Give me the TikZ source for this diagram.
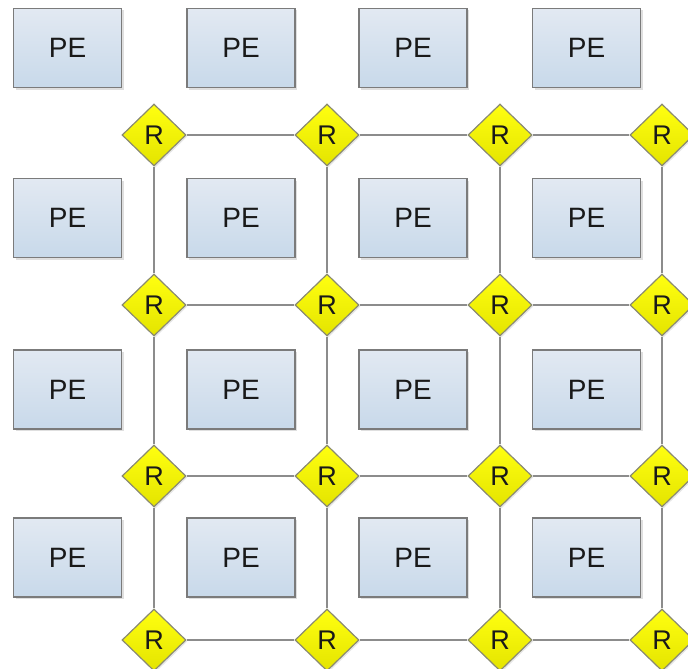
\documentclass[tikz,border=0pt]{standalone}
\usepackage{fontspec}
\setmainfont{Liberation Sans}
\usetikzlibrary{shapes.geometric,shadows}

\definecolor{petop}{HTML}{E2E9F2}
\definecolor{pebottom}{HTML}{C8D9EA}
\definecolor{peborder}{HTML}{7B7B7B}
\definecolor{rtop}{HTML}{FFFF10}
\definecolor{rbottom}{HTML}{E4E400}
\definecolor{rborder}{HTML}{8A8A70}
\definecolor{linkgray}{HTML}{8C8C8C}

\tikzset{
	pe/.style = {rectangle, draw = peborder, line width = 1.4pt,
		top color = petop, bottom color = pebottom,
		minimum width = 108pt, minimum height = 79pt, inner sep = 0pt,
		font = \fontsize{28}{32}\selectfont, text = black!90,
		drop shadow = {opacity = 0.25, shadow xshift = 2pt, shadow yshift = -2pt}},
	router/.style = {diamond, draw = rborder, line width = 1.2pt,
		top color = rtop, bottom color = rbottom,
		minimum width = 64pt, minimum height = 62pt, inner sep = 0pt,
		font = \fontsize{27}{30}\selectfont, text = black!90,
		drop shadow = {opacity = 0.2, shadow xshift = 1.5pt, shadow yshift = -1.5pt}},
	link/.style = {draw = linkgray, line width = 1.6pt}
}

\begin{document}
\begin{tikzpicture}[x = 1pt, y = -1pt]
	\useasboundingbox (0,0) rectangle (688,669);

	% processing elements
	\foreach \x [count = \i] in {67.5, 241, 413, 586.5} {
		\foreach \y [count = \j] in {48, 218, 389.5, 557.5} {
			\node[pe] (pe-\i-\j) at (\x, \y) {PE};
		}
	}

	% routers
	\foreach \x [count = \i] in {154, 327, 500, 662} {
		\foreach \y [count = \j] in {135, 305, 476, 640} {
			\node[router] (r-\i-\j) at (\x, \y) {R};
		}
	}

	% mesh links
	\foreach \i [evaluate = \i as \n using int(\i+1)] in {1,2,3} {
		\foreach \j in {1,...,4} {
			\draw[link] (r-\i-\j) -- (r-\n-\j);
			\draw[link] (r-\j-\i) -- (r-\j-\n);
		}
	}
\end{tikzpicture}
\end{document}
